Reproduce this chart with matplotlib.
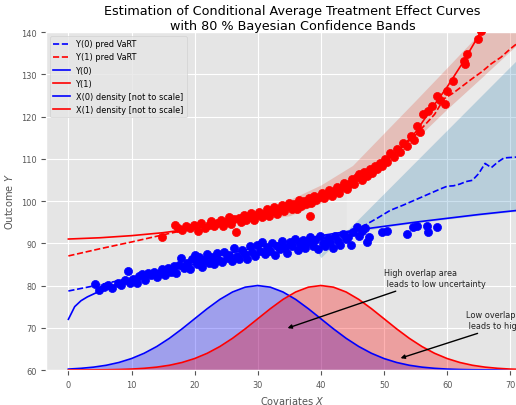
import numpy as np
import matplotlib
matplotlib.use("Agg")
import matplotlib.pyplot as plt

plt.style.use('ggplot')
plt.rcParams['font.size'] = 5.9

# true outcome curves
x0_true = [0, 1, 2, 3, 5, 7.5, 10, 15, 20, 25, 30, 35, 40, 45, 50, 55, 60, 65, 70, 72]
y0_true = [72, 75, 76.4, 77.3, 78.7, 80.2, 81.5, 83.8, 85.8, 87.5, 89.1, 90.5, 91.8, 93.0, 94.0, 95.0, 95.9, 96.8, 97.6, 97.9]
x1_true = [0, 5, 10, 15, 20, 25, 30, 35, 40, 45, 50, 52.5, 55, 57.5, 60, 62.5, 65, 67.5]
y1_true = [91, 91.3, 91.8, 92.5, 93.5, 94.9, 96.6, 98.8, 101.4, 104.7, 109.3, 112.2, 116.3, 121.8, 127, 132.8, 139.2, 146]

# VaRT predictions
x0_pred = [0, 5, 10, 15, 20, 25, 30, 35, 40, 45, 47, 49, 51, 53, 55, 57, 59, 60, 61, 62, 63, 64, 65, 66, 67, 68, 69, 70, 71, 72]
y0_pred = [78.7, 80.2, 81.8, 83.4, 85.0, 86.5, 88.0, 89.5, 91.0, 92.8, 94.3, 96.0, 97.8, 99.0, 100.3, 101.6, 102.9, 103.5, 103.6, 104.0, 104.6, 104.9, 106.5, 108.9, 107.9, 109.2, 110.2, 110.3, 110.4, 110.5]
x1_pred = [0, 5, 10, 15, 20, 25, 30, 35, 40, 45, 50, 55, 58, 59.5, 61, 62.5, 64, 65.5, 67, 68.5, 70, 71, 72]
y1_pred = [87, 88.7, 90.3, 92.0, 93.6, 95.2, 97.0, 99.0, 101.5, 104.6, 109.0, 115.6, 120.5, 124.2, 125.6, 127.3, 129.0, 130.6, 132.5, 134.0, 136.0, 137.2, 138.3]

# 80% bands
band1_x = [30, 35, 40, 45, 50, 55, 60, 65, 70, 72]
band1_lo = [95.5, 96.5, 99.5, 103.0, 108.0, 114.6, 121.8, 128.6, 135.5, 138.2]
band1_hi = [97.5, 100.3, 103.8, 108.4, 116.1, 123.8, 131.6, 139.5, 147.4, 150.5]
band0_x = [38.5, 40, 42, 45, 50, 55, 60, 65, 70, 72]
band0_lo = [89.8, 86.6, 89.5, 92.4, 93.8, 94.8, 95.7, 96.6, 97.4, 97.7]
band0_hi = [90.3, 87.6, 90.1, 94.3, 101.8, 109.3, 116.8, 124.3, 131.8, 134.8]
gap_x = [44, 50, 55, 60, 65, 70, 72]
gap_lo = [92.8, 101.8, 109.3, 116.8, 124.3, 131.8, 134.8]
gap_hi = [102.3, 108.0, 114.6, 121.8, 128.6, 135.5, 138.2]

# covariate densities (height above 60)
dens_x = list(range(0, 74, 2))
dens0 = [0.22, 0.40, 0.68, 1.12, 1.78, 2.71, 3.96, 5.56, 7.5, 9.73, 12.13, 14.52, 16.71, 18.46, 19.6, 20.0,
         19.6, 18.46, 16.71, 14.52, 12.13, 9.73, 7.5, 5.56, 3.96, 2.71, 1.78, 1.12, 0.68, 0.40, 0.22, 0.12,
         0.06, 0.03, 0.01, 0.01, 0.0]
dens1 = [0.01, 0.01, 0.03, 0.06, 0.12, 0.22, 0.40, 0.68, 1.12, 1.78, 2.71, 3.96, 5.56, 7.5, 9.73, 12.13,
         14.52, 16.71, 18.46, 19.6, 20.0, 19.6, 18.46, 16.71, 14.52, 12.13, 9.73, 7.5, 5.56, 3.96, 2.71, 1.78,
         1.12, 0.68, 0.40, 0.22, 0.12]

# observed samples
blue_x = [4.2, 4.9, 5.6, 6.3, 6.9, 7.8, 8.3, 8.9, 9.4, 9.8, 10.3, 10.8, 11.2, 11.7, 12.2, 12.6, 13.1, 13.6,
          14.0, 14.5, 14.9, 15.3, 15.8, 16.2, 16.7, 17.1, 17.5, 17.9, 18.3, 18.8, 19.2, 19.6, 20.0, 20.3,
          20.7, 21.1, 21.5, 21.9, 22.3, 22.7, 23.1, 23.5, 23.9, 24.3, 24.7, 25.1, 25.5, 25.9, 26.3, 26.7,
          27.1, 27.5, 27.9, 28.3, 28.7, 29.1, 29.5, 29.9, 30.3, 30.7, 31.1, 31.5, 31.9, 32.3, 32.7, 33.1,
          33.5, 33.9, 34.3, 34.7, 35.1, 35.5, 35.9, 36.3, 36.7, 37.1, 37.5, 37.9, 38.3, 38.7, 39.1, 39.5,
          39.9, 40.3, 40.7, 41.1, 41.5, 41.9, 42.3, 42.7, 43.1, 43.5, 43.9, 44.3, 44.7, 45.1, 45.7, 46.0,
          46.5, 47.0, 47.3, 47.6, 49.7, 50.5, 53.6, 54.6, 55.2, 56.8, 57.0, 58.4]
blue_y = [80.4, 79.0, 79.6, 80.1, 79.3, 80.6, 80.1, 81.2, 83.4, 80.7, 81.5, 80.6, 82.2, 82.8, 81.3, 83.0, 82.4, 83.3,
          82.0, 82.9, 83.9, 82.6, 84.1, 83.3, 84.5, 83.0, 84.9, 86.5, 84.2, 85.3, 84.0, 86.2, 87.3, 85.0,
          86.7, 84.3, 86.0, 87.4, 85.4, 86.8, 85.2, 87.6, 86.1, 85.5, 88.0, 86.6, 87.3, 85.9, 88.8, 87.1,
          86.2, 88.5, 87.4, 86.3, 89.3, 87.9, 86.9, 89.6, 88.2, 90.4, 87.5, 89.0, 88.1, 90.0, 87.2, 89.4,
          88.6, 90.6, 89.0, 87.8, 90.3, 89.3, 91.0, 88.4, 89.9, 90.8, 88.9, 90.2, 91.4, 89.3, 90.7, 88.7,
          91.6, 90.1, 89.3, 91.2, 90.4, 88.9, 91.8, 90.6, 89.6, 92.1, 90.9, 91.5, 89.5, 92.6, 93.8, 91.6,
          92.9, 93.6, 90.3, 91.4, 92.7, 93.0, 92.2, 93.8, 94.0, 94.1, 92.7, 93.8]
red_x = [14.8, 16.9, 17.4, 18.0, 18.6, 19.3, 19.9, 20.5, 21.0, 21.6, 22.2, 22.6, 23.1, 23.6, 24.1, 24.5,
         25.0, 25.4, 25.8, 26.2, 26.6, 27.0, 27.4, 27.8, 28.2, 28.6, 29.0, 29.4, 29.8, 30.2, 30.6, 31.0,
         31.4, 31.8, 32.2, 32.6, 33.0, 33.4, 33.8, 34.2, 34.6, 35.0, 35.4, 35.8, 36.2, 36.5, 36.9, 37.3,
         37.7, 38.1, 38.3, 38.5, 38.9, 39.3, 39.7, 40.1, 40.5, 40.9, 41.3, 41.7, 42.1, 42.5, 42.9, 43.3,
         43.7, 44.1, 44.5, 44.9, 45.3, 45.7, 46.1, 46.5, 46.9, 47.3, 47.7, 48.1, 48.5, 48.9, 49.3, 49.7,
         50.1, 50.5, 51.0, 51.5, 52.0, 52.5, 53.0, 53.7, 54.3, 54.7, 55.2, 55.7, 56.2, 57.0, 57.6, 58.4,
         58.8, 59.7, 60.0, 61.0, 62.6, 62.8, 63.1, 64.9, 65.3]
red_y = [91.4, 94.3, 93.6, 93.2, 94.1, 93.7, 94.4, 92.9, 94.8, 93.5, 94.3, 95.3, 94.0, 94.8, 95.6, 94.2,
         95.1, 96.2, 94.6, 95.7, 92.7, 96.0, 95.0, 96.6, 95.4, 96.2, 97.1, 95.6, 96.7, 97.4, 96.1, 97.0,
         98.0, 96.5, 97.6, 98.5, 97.0, 98.2, 99.0, 97.7, 98.8, 99.6, 98.2, 99.3, 98.0, 100.2, 98.9, 100.0,
         99.2, 100.8, 96.4, 99.6, 101.3, 100.2, 101.0, 102.0, 100.6, 101.7, 102.6, 101.2, 102.4, 103.4, 102.0, 103.3,
         104.2, 102.8, 104.1, 105.2, 104.0, 105.6, 106.3, 105.0, 106.9, 105.9, 107.6, 106.6, 108.4, 107.5, 109.1, 108.2,
         110.0, 109.2, 111.4, 110.3, 112.3, 111.6, 113.8, 113.0, 115.4, 114.5, 117.8, 116.3, 120.6, 121.3, 122.6, 124.9,
         124.0, 123.0, 126.0, 128.4, 133.2, 132.4, 134.8, 138.3, 140.2]

fig = plt.figure(figsize=(5.16, 4.06), dpi=100)
ax = fig.add_axes([0.0891, 0.0862, 0.9555, 0.8325])

base = 60
d0 = [base + v for v in dens0]
d1 = [base + v for v in dens1]
ax.fill_between(dens_x, base, d0, color='blue', alpha=0.3, lw=0)
ax.fill_between(dens_x, base, d1, color='red', alpha=0.3, lw=0)

ax.plot(x0_pred, y0_pred, '--', color='blue', lw=1.2, label='Y(0) pred VaRT')
ax.plot(x1_pred, y1_pred, '--', color='red', lw=1.2, label='Y(1) pred VaRT')
ax.plot(x0_true, y0_true, '-', color='blue', lw=1.2, label='Y(0)')
ax.plot(x1_true, y1_true, '-', color='red', lw=1.2, label='Y(1)')
ax.plot(dens_x, d0, '-', color='blue', lw=1.2, label='X(0) density [not to scale]')
ax.plot(dens_x, d1, '-', color='red', lw=1.2, label='X(1) density [not to scale]')

ax.scatter(blue_x, blue_y, s=34, color='blue', zorder=3)
ax.scatter(red_x, red_y, s=34, color='red', zorder=3)

ax.fill_between(gap_x, gap_lo, gap_hi, color='white', alpha=0.2, lw=0)
ax.fill_between(band1_x, band1_lo, band1_hi, color='#E24A33', alpha=0.25, lw=0)
ax.fill_between(band0_x, band0_lo, band0_hi, color='#348ABD', alpha=0.25, lw=0)

ax.annotate('High overlap area\n leads to low uncertainty', xy=(34.3, 69.7), xytext=(50, 80),
            arrowprops=dict(arrowstyle='-|>', color='black', lw=1.0), fontsize=5.9, color='#222222')
ax.annotate('Low overlap area\n leads to high uncertainty', xy=(52.2, 62.6), xytext=(63, 70),
            arrowprops=dict(arrowstyle='-|>', color='black', lw=1.0), fontsize=5.9, color='#222222')

ax.set_xlim(-3.55, 74.55)
ax.set_ylim(60, 140)
ax.set_xticks(range(0, 80, 10))
ax.set_yticks(range(60, 150, 10))
ax.set_xlabel('Covariates $X$')
ax.set_ylabel('Outcome $Y$')
ax.set_title('Estimation of Conditional Average Treatment Effect Curves\nwith 80 % Bayesian Confidence Bands',
             fontsize=9.2, pad=2.5)
ax.legend(loc='upper left')

fig.savefig('out.png', dpi=100)
